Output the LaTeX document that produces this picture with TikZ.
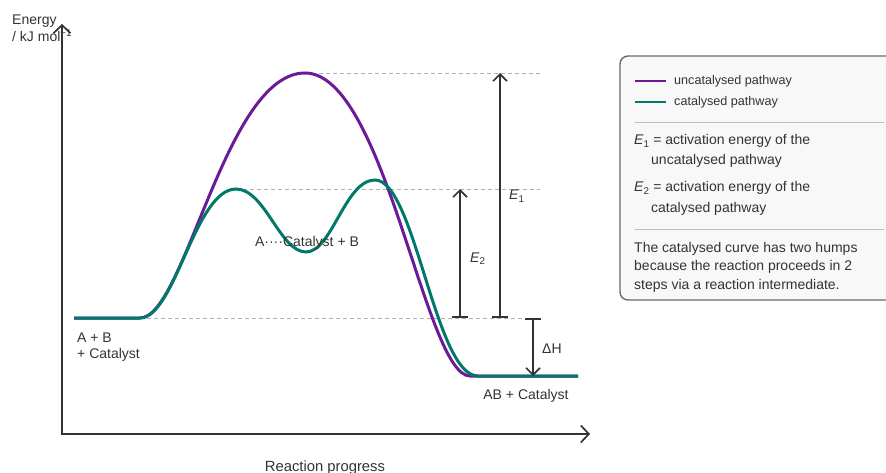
\documentclass[tikz,border=0pt]{standalone}
\usepackage{fontspec}
\setmainfont{Liberation Sans}
\usetikzlibrary{arrows.meta}
\definecolor{ink}{HTML}{333333}
\definecolor{guide}{HTML}{AFAFAF}
\definecolor{uncat}{HTML}{6A1B9A}
\definecolor{cat}{HTML}{00796B}
\definecolor{boxbg}{HTML}{F8F8F8}
\definecolor{boxline}{HTML}{6A6A6A}
\definecolor{rule}{HTML}{BDBDBD}
\newcommand{\actE}[1]{{\itshape E}\textsubscript{#1}}
\tikzset{
  every picture/.style={font=\fontsize{14}{17}\selectfont},
  axistip/.tip={Straight Barb[length=8pt,width=17pt,line width=1.7pt]},
  gaptip/.tip={Straight Barb[length=7pt,width=14pt]},
  axis/.style={draw=ink,line width=2pt,axistip-axistip},
  measure/.style={draw=ink,line width=1.6pt,{Bar[width=16pt]}-gaptip},
  guideline/.style={draw=guide,line width=.9pt,dash pattern=on 4pt off 3pt},
  uncatpath/.style={draw=uncat,line width=3pt},
  catpath/.style={draw=cat,line width=3pt},
  plain/.style={text=ink,inner sep=0pt},
  legtext/.style={text=ink,inner sep=0pt,anchor=base west,font=\fontsize{12.6}{15}\selectfont},
  boxtext/.style={text=ink,inner sep=0pt,anchor=base west},
  legbox/.style={draw=boxline,fill=boxbg,line width=1.4pt,rounded corners=8pt},
  rulebar/.style={draw=rule,line width=.9pt},
}

\begin{document}
\begin{tikzpicture}[x=1pt,y=-1pt]
  \useasboundingbox (0,0) rectangle (886,473);
  % energy levels and transition states
  \coordinate (start) at (74,318);  \coordinate (rise) at (140,318);
  \coordinate (tsA) at (305,73);    \coordinate (endA) at (470,376);
  \coordinate (ts1) at (236,189);   \coordinate (inter) at (306,252);
  \coordinate (ts2) at (375,180);   \coordinate (endB) at (478,376);
  \coordinate (fin) at (578,376);

  \node[plain,anchor=base west] (ylab1) at (12,25) {Energy};
  \node[plain,anchor=base west] (ylab2) at (12,42) {/ kJ mol\textsuperscript{−1}};

  \coordinate (ytop) at (62,24); \coordinate (origin) at (62,434); \coordinate (xend) at (590,434);
  \draw[axis] (ytop) -- (origin) -- (xend);
  \node[plain,anchor=base,font=\fontsize{14.8}{17}\selectfont] (xlab) at (325,471) {Reaction progress};

  % dashed guides
  \coordinate (g1) at (540,73); \coordinate (g2) at (540,189); \coordinate (g3) at (540,318);
  \draw[guideline] (tsA) -- (g1);
  \draw[guideline] (ts1) -- (g2);
  \draw[guideline] (rise) -- (g3);

  % pathways
  \draw[uncatpath] (start) -- (rise) .. controls (185,318) and (225,73) .. (tsA)
    .. controls (385,73) and (425,376) .. (endA) -- (fin);
  \draw[catpath] (start) -- (rise) .. controls (175,318) and (195,189) .. (ts1)
    .. controls (265,189) and (280,252) .. (inter)
    .. controls (332,252) and (345,180) .. (ts2)
    .. controls (415,180) and (435,376) .. (endB) -- (fin);

  % energy arrows
  \coordinate (e1b) at (500,318); \coordinate (e1t) at (500,73);
  \coordinate (e2b) at (460,318); \coordinate (e2t) at (460,189);
  \coordinate (dht) at (533,318); \coordinate (dhb) at (533,376);
  \draw[measure] (e1b) -- (e1t);
  \draw[measure] (e2b) -- (e2t);
  \draw[measure] (dht) -- (dhb);
  \node[plain,anchor=base west] (e1lab) at (509,200) {\actE{1}};
  \node[plain,anchor=base west] (e2lab) at (470,262) {\actE{2}};
  \node[plain,anchor=base west] (dhlab) at (542,353) {ΔH};

  \node[plain,anchor=base west] (reac1) at (77,342) {A + B};
  \node[plain,anchor=base west] (reac2) at (77,358) {+ Catalyst};
  \node[plain,anchor=base] (intlab) at (307,247) {A····Catalyst + B};
  \node[plain,anchor=base] (prodlab) at (526,399) {AB + Catalyst};

  % legend panel
  \draw[legbox] (620,56) rectangle (900,300);
  \coordinate (la) at (635,81); \coordinate (lb) at (666,81);
  \coordinate (lc) at (635,102); \coordinate (ld) at (666,102);
  \draw[draw=uncat,line width=2.6pt] (la) -- (lb);
  \draw[draw=cat,line width=2.6pt] (lc) -- (ld);
  \node[legtext] (leg1) at (674,85) {uncatalysed pathway};
  \node[legtext] (leg2) at (674,106) {catalysed pathway};
  \draw[rulebar] (635,122) -- (884,122);
  \node[boxtext] (def1) at (634,145) {\actE{1} = activation energy of the};
  \node[boxtext] (def1b) at (651,165) {uncatalysed pathway};
  \node[boxtext] (def2) at (634,192) {\actE{2} = activation energy of the};
  \node[boxtext] (def2b) at (651,212) {catalysed pathway};
  \draw[rulebar] (635,229) -- (884,229);
  \node[boxtext] (note1) at (634,252) {The catalysed curve has two humps};
  \node[boxtext] (note2) at (634,270) {because the reaction proceeds in 2};
  \node[boxtext] (note3) at (634,289) {steps via a reaction intermediate.};
\end{tikzpicture}
\end{document}
